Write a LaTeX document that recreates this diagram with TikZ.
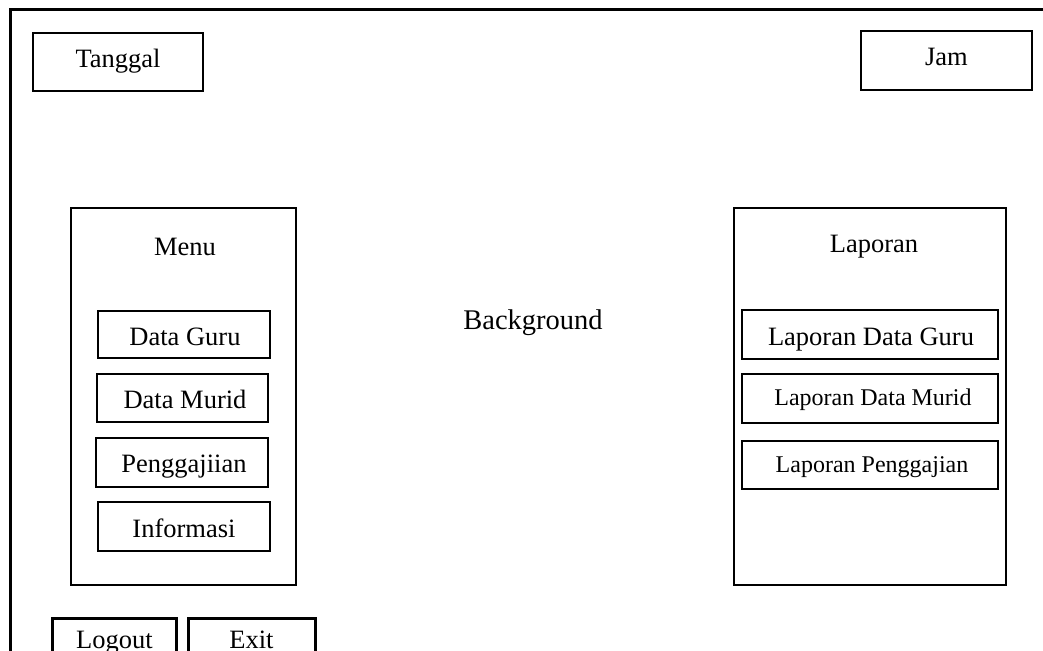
\documentclass[tikz,border=0pt]{standalone}
\usepackage{fontspec}
\setmainfont{Liberation Serif}
\begin{document}
\begin{tikzpicture}[x=1pt,y=-1pt,
  box/.style={draw=black,line width=2pt,rectangle,inner sep=0pt},
  thickbox/.style={draw=black,line width=3pt,rectangle,inner sep=0pt},
  lbl/.style={anchor=base,inner sep=0pt,font=\fontsize{26.5}{30}\selectfont},
  slbl/.style={anchor=base,inner sep=0pt,font=\fontsize{24}{28}\selectfont},
  blbl/.style={anchor=base,inner sep=0pt,font=\fontsize{28.5}{32}\selectfont}]
\useasboundingbox (0,0) rectangle (1043,650);
\clip (0,0) rectangle (1043,650);
% outer frame
\coordinate (ftr) at (1060,10);
\coordinate (ftl) at (10,10);
\coordinate (fbl) at (10,670);
\draw[line width=3pt] (ftr) -- (ftl) -- (fbl);
% top boxes
\node[box,minimum width=170pt,minimum height=58pt] (tanggal) at (118,62) {};
\node[lbl] (tanggalT) at (118,68) {Tanggal};
\node[box,minimum width=171pt,minimum height=59pt] (jam) at (946.5,60.5) {};
\node[lbl] (jamT) at (946.5,66) {Jam};
% menu panel
\node[box,minimum width=225pt,minimum height=377pt] (menu) at (183.5,396.5) {};
\node[lbl] (menuT) at (185,255) {Menu};
\node[box,minimum width=172pt,minimum height=47pt] (dguru) at (184,334.5) {};
\node[lbl] (dguruT) at (185,345) {Data Guru};
\node[box,minimum width=171pt,minimum height=48pt] (dmurid) at (182.5,398) {};
\node[lbl] (dmuridT) at (185,408) {Data Murid};
\node[box,minimum width=172pt,minimum height=49pt] (gaji) at (182,462.5) {};
\node[lbl] (gajiT) at (184,472) {Penggajiian};
\node[box,minimum width=172pt,minimum height=49pt] (info) at (184,526.5) {};
\node[lbl] (infoT) at (184,537) {Informasi};
% background label
\node[blbl] (bg) at (533,329) {Background};
% laporan panel
\node[box,minimum width=272pt,minimum height=377pt] (lap) at (870,396.5) {};
\node[lbl] (lapT) at (874,252) {Laporan};
\node[box,minimum width=256pt,minimum height=49pt] (ldg) at (870,334.5) {};
\node[lbl] (ldgT) at (871,345) {Laporan Data Guru};
\node[box,minimum width=256pt,minimum height=49pt] (ldm) at (870,398.5) {};
\node[slbl] (ldmT) at (873,405) {Laporan Data Murid};
\node[box,minimum width=256pt,minimum height=48pt] (lp) at (870,465) {};
\node[slbl] (lpT) at (872,472) {Laporan Penggajian};
% bottom buttons
\node[thickbox,minimum width=124pt,minimum height=60pt] (logout) at (114,648) {};
\node[lbl] (logoutT) at (114.5,648) {Logout};
\node[thickbox,minimum width=127pt,minimum height=60pt] (exit) at (251.5,648) {};
\node[lbl] (exitT) at (251.5,648) {Exit};
\end{tikzpicture}
\end{document}
